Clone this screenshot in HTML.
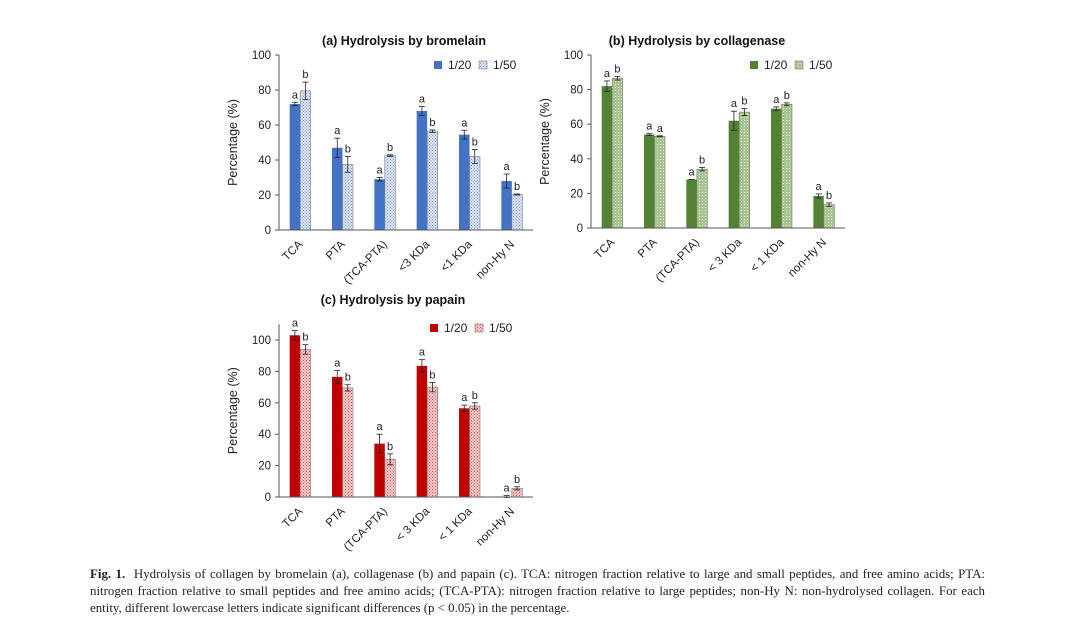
<!DOCTYPE html>
<html><head><meta charset="utf-8"><style>
body{margin:0;background:#fff;width:1080px;height:635px;overflow:hidden;position:relative}
svg{position:absolute;left:0;top:0}
.cap{position:absolute;left:90px;top:566px;width:895px;font:12.9px/17px "Liberation Serif",serif;color:#222;text-align:justify}
</style></head><body>
<svg id="s" width="1080" height="635" font-family="Liberation Sans, sans-serif">
<defs>
<pattern id="pb" width="3" height="3" patternUnits="userSpaceOnUse"><rect width="3" height="3" fill="#dbe4f4"/><rect width="1" height="1" fill="#7f9ed6"/><rect x="1.5" y="1.5" width="1" height="1" fill="#7f9ed6"/></pattern>
<pattern id="pg" width="3" height="3" patternUnits="userSpaceOnUse"><rect width="3" height="3" fill="#a9c58f"/><rect width="1" height="1" fill="#e9f1e1"/></pattern>
<pattern id="pr" width="3" height="3" patternUnits="userSpaceOnUse"><rect width="3" height="3" fill="#f7d0d0"/><rect width="1" height="1" fill="#d94b4b"/><rect x="1.5" y="1.5" width="1" height="1" fill="#d94b4b"/></pattern>
</defs>
</svg>
<div class="cap"><b>Fig. 1.</b>&nbsp; Hydrolysis of collagen by bromelain (a), collagenase (b) and papain (c). TCA: nitrogen fraction relative to large and small peptides, and free amino acids; PTA: nitrogen fraction relative to small peptides and free amino acids; (TCA-PTA): nitrogen fraction relative to large peptides; non-Hy N: non-hydrolysed collagen. For each entity, different lowercase letters indicate significant differences (p &lt; 0.05) in the percentage.</div>
<script>
const catsA=["TCA","PTA","(TCA-PTA)","<3 KDa","<1 KDa","non-Hy N"];
const catsB=["TCA","PTA","(TCA-PTA)","< 3 KDa","< 1 KDa","non-Hy N"];
const catsC=["TCA","PTA","(TCA-PTA)","< 3 KDa","< 1  KDa","non-Hy N"];
const a20=[72,47,29,68,54.5,28], a20e=[1,5.5,1,2.5,2.5,4];
const a50=[79.5,37.5,42.5,56.5,42,20.3], a50e=[5,4.5,0.5,0.7,4,0.3];
const aL20=["a","a","a","a","a","a"], aL50=["b","b","b","b","b","b"];
const b20=[82,54,28,62,69,18.5], b20e=[3,0.5,0,5.5,1,1.2];
const b50=[86.5,53,34,67,71.5,13.5], b50e=[1,0.3,1,2,0.8,1];
const bL20=["a","a","a","a","a","a"], bL50=["b","a","b","b","b","b"];
const c20=[103,76.5,34,83.5,56.5,0.3], c20e=[3,4,6,4,2,0.6];
const c50=[94,69.5,24,70,58,5.5], c50e=[3,2,3.5,3,2,1];
const cL20=["a","a","a","a","a","a"], cL50=["b","b","b","b","b","b"];
const ticksAB=[0,20,40,60,80,100], ticksC=[0,20,40,60,80,100];
const S=document.getElementById('s'), NS="http://www.w3.org/2000/svg";
function el(t,at,txt){const e=document.createElementNS(NS,t);for(const k in at)e.setAttribute(k,at[k]);if(txt!==undefined)e.textContent=txt;S.appendChild(e);return e;}
function chart(o){
 const y=v=>o.y0-(v/o.max)*(o.y0-o.yTop);
 const w=(o.x1-o.x0)/o.cats.length;
 const t=el('text',{x:o.tx,y:o.ty,'font-size':12.5,'font-weight':'bold','text-anchor':'middle',fill:'#111'},o.title);
 
 const ya=el('line',{x1:o.x0,y1:y(o.axMax),x2:o.x0,y2:o.y0,stroke:'#555','stroke-width':1});
 
 o.ticks.forEach(v=>{el('line',{x1:o.x0-4,x2:o.x0,y1:y(v),y2:y(v),stroke:'#555'});
  const tl=el('text',{x:o.x0-8,y:y(v)+4,'font-size':11.5,'text-anchor':'end',fill:'#222'},v);
  });
 const yt=el('text',{transform:`translate(${o.x0-42},${(o.y0+y(o.axMax))/2}) rotate(-90)`,'font-size':12.5,'text-anchor':'middle',fill:'#222'},'Percentage (%)');
 
 o.cats.forEach((c,i)=>{
  const cx=o.x0+w*(i+0.5);
  [[o.v1,o.e1,o.l1,o.c1,cx-10.5],[o.v2,o.e2,o.l2,o.f2,cx]].forEach((s,k)=>{
   const v=s[0][i],e=s[1][i];
   const r=el('rect',{x:s[4],y:y(v),width:10.5,height:o.y0-y(v),fill:s[3],stroke:k?'#777':'none','stroke-width':0.6});
   
   const bx=s[4]+5.25;
   el('line',{x1:bx,x2:bx,y1:y(v+e),y2:y(v-e),stroke:'#222','stroke-width':0.8});
   el('line',{x1:bx-3,x2:bx+3,y1:y(v+e),y2:y(v+e),stroke:'#222','stroke-width':0.8});
   el('line',{x1:bx-3,x2:bx+3,y1:y(v-e),y2:y(v-e),stroke:'#222','stroke-width':0.8});
   const lt=el('text',{x:bx,y:y(v+e)-4,'font-size':11,'text-anchor':'middle',fill:'#222'},s[2][i]);
   
  });
  const cl=el('text',{transform:`translate(${cx+3},${o.y0+15}) rotate(-45)`,'font-size':11.5,'text-anchor':'end',fill:'#222'},c);
  
 });
 const xa=el('line',{x1:o.x0,x2:o.x1,y1:o.y0,y2:o.y0,stroke:'#555'});
 
 [[o.c1,'1/20',o.lx],[o.f2,'1/50',o.lx+45]].forEach(([f,n,lx],k)=>{
  const r=el('rect',{x:lx,y:o.ly-8,width:8,height:8,fill:f,stroke:k?'#777':'none','stroke-width':0.6});
  
  const tt=el('text',{x:lx+14,y:o.ly,'font-size':12,fill:'#222'},n);
  
 });
}
chart({id:'chart-a',title:'(a) Hydrolysis by bromelain',tx:404,ty:45,x0:279,x1:533,y0:230,yTop:55,max:100,axMax:100,ticks:ticksAB,cats:catsA,
 v1:a20,e1:a20e,l1:aL20,v2:a50,e2:a50e,l2:aL50,c1:'#4472c4',f2:'url(#pb)',lx:434,ly:69});
chart({id:'chart-b',title:'(b) Hydrolysis by collagenase',tx:697,ty:45,x0:591,x1:845,y0:228,yTop:55,max:100,axMax:100,ticks:ticksAB,cats:catsB,
 v1:b20,e1:b20e,l1:bL20,v2:b50,e2:b50e,l2:bL50,c1:'#548235',f2:'url(#pg)',lx:750,ly:69});
chart({id:'chart-c',title:'(c) Hydrolysis by papain',tx:393,ty:304,x0:279,x1:533,y0:497,yTop:340,max:100,axMax:110,ticks:ticksC,cats:catsC,
 v1:c20,e1:c20e,l1:cL20,v2:c50,e2:c50e,l2:cL50,c1:'#c00000',f2:'url(#pr)',lx:430,ly:332});
</script>
</body></html>
